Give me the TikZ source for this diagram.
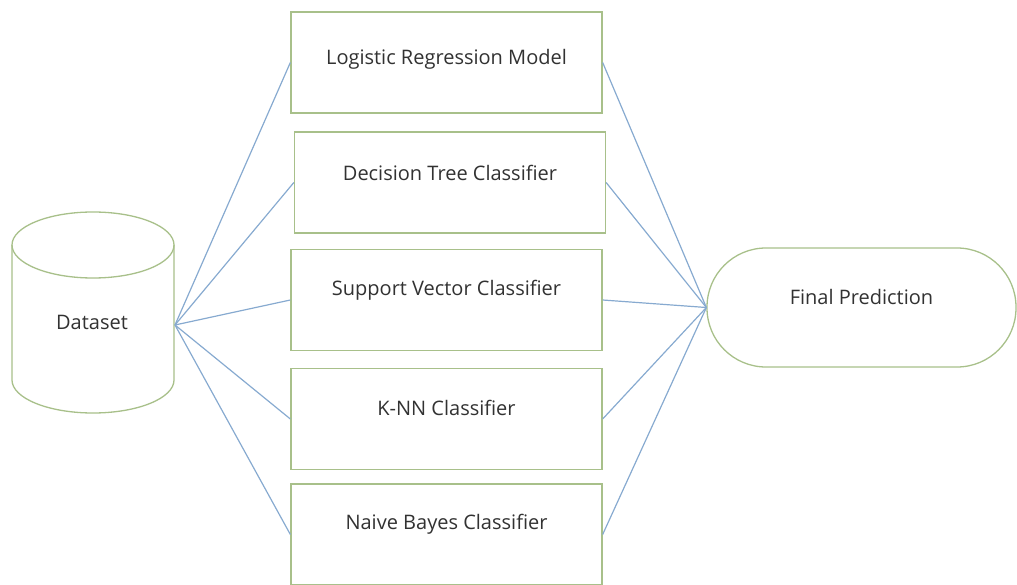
\documentclass[tikz,border=0pt]{standalone}
\usepackage{fontspec}
\setmainfont{Open Sans}
\definecolor{edgegreen}{RGB}{168,192,138}
\definecolor{linkblue}{RGB}{135,170,208}
\definecolor{txtgray}{RGB}{50,50,50}
\tikzset{
  x=1pt, y=-1pt,
  boxnode/.style={draw=edgegreen, line width=1.3pt, fill=white, rectangle,
    minimum width=311pt, minimum height=101pt, inner sep=0pt},
  lbl/.style={text=txtgray, font=\fontsize{20}{24}\selectfont, inner sep=0pt},
  link/.style={draw=linkblue, line width=1.2pt},
  cyl/.style={draw=edgegreen, line width=1.3pt}
}
\begin{document}
\begin{tikzpicture}
\useasboundingbox (0,0) rectangle (1017,585);
\coordinate (dsR) at (175,325);
% dataset cylinder
\draw[cyl, fill=white] (12,245) -- (12,380) arc[start angle=180, end angle=360, x radius=81pt, y radius=33pt] -- (174,245);
\draw[cyl] (93,245) ellipse [x radius=81pt, y radius=33pt];
\node[lbl] (ds) at (92,322) {Dataset};
% classifier boxes
\node[boxnode] (b1) at (446.5,62.5) {};
\node[lbl] (t1) at ([yshift=3]b1.center) {Logistic Regression Model};
\node[boxnode] (b2) at (450,182.5) {};
\node[lbl] (t2) at ([yshift=10]b2.center) {Decision Tree Classifier};
\node[boxnode] (b3) at (446.5,300) {};
\node[lbl] (t3) at ([yshift=10]b3.center) {Support Vector Classifier};
\node[boxnode] (b4) at (446.5,419) {};
\node[lbl] (t4) at ([yshift=11]b4.center) {K-NN Classifier};
\node[boxnode] (b5) at (446.5,534.5) {};
\node[lbl] (t5) at ([yshift=10]b5.center) {Naive Bayes Classifier};
% final prediction
\node[draw=edgegreen, line width=1.3pt, rectangle, rounded corners=59pt,
  minimum width=309pt, minimum height=119pt, inner sep=0pt] (fp) at (861.5,307.5) {};
\node[lbl] (tf) at ([yshift=10]fp.center) {Final Prediction};
% connectors
\foreach \b in {b1,b2,b3,b4,b5}{
  \draw[link] (dsR) -- (\b.west);
  \draw[link] (\b.east) -- (fp.west);
}
\end{tikzpicture}
\end{document}
